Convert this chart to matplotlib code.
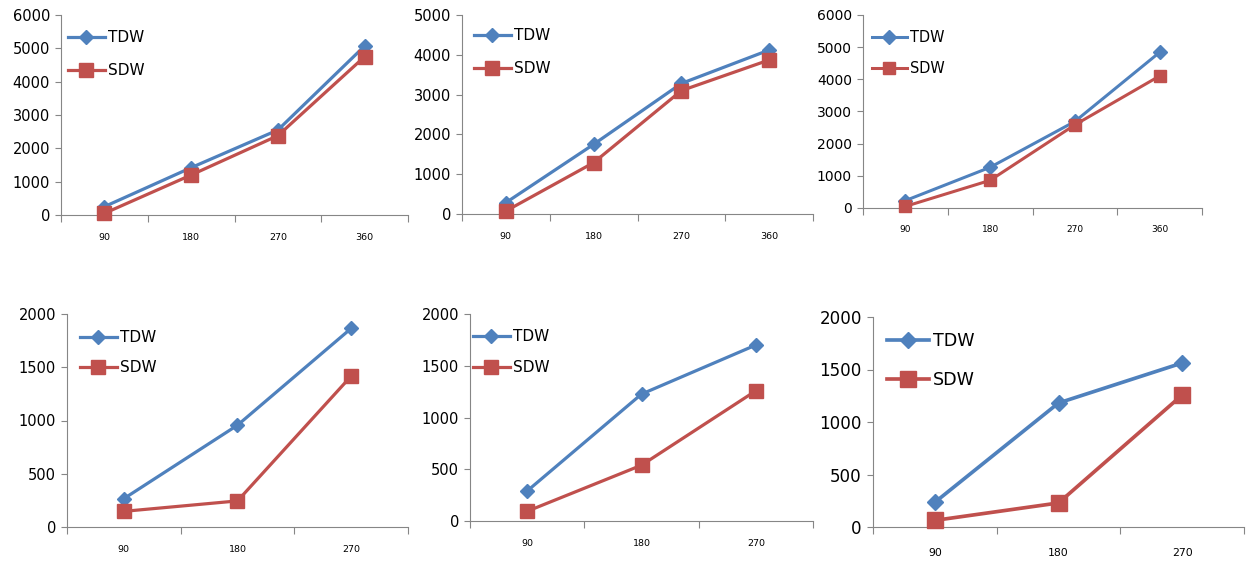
import matplotlib
matplotlib.use("Agg")
import matplotlib.pyplot as plt
import numpy as np

plt.rcParams['font.family'] = ['DejaVu Sans']

cats4 = ["90", "180", "270", "360"]
cats3 = ["90", "180", "270"]

p1_tdw = [250, 1420, 2550, 5070]
p1_sdw = [50, 1200, 2380, 4750]
p2_tdw = [285, 1750, 3280, 4120]
p2_sdw = [75, 1290, 3100, 3870]
p3_tdw = [230, 1265, 2690, 4840]
p3_sdw = [50, 860, 2585, 4105]
p4_tdw = [266, 956, 1865]
p4_sdw = [147, 245, 1417]
p5_tdw = [290, 1226, 1700]
p5_sdw = [94, 539, 1258]
p6_tdw = [235, 1181, 1562]
p6_sdw = [63, 229, 1257]

W, H = 1250, 563
fig = plt.figure(figsize=(W / 100, H / 100), dpi=100)

BLUE = "#4F81BD"
RED = "#C0504D"
GREY = "#868686"

# (left, right, top, bottom) in pixels, ymax, ystep, legend (x, y_top), scale, labelspacing
panels = [
    (cats4, p1_tdw, p1_sdw, (61, 408, 15, 215), 6000, 1000, (68, 30), 1.0, 1.2),
    (cats4, p2_tdw, p2_sdw, (462, 813, 15, 214), 5000, 1000, (474, 28), 1.0, 1.2),
    (cats4, p3_tdw, p3_sdw, (863, 1202, 15, 208), 6000, 1000, (872, 30), 0.95, 1.1),
    (cats3, p4_tdw, p4_sdw, (67, 408, 314, 527), 2000, 500, (80, 330), 1.0, 1.0),
    (cats3, p5_tdw, p5_sdw, (470, 813, 314, 521), 2000, 500, (473, 329), 1.0, 1.05),
    (cats3, p6_tdw, p6_sdw, (873, 1244, 317, 527), 2000, 500, (887, 332), 1.15, 1.2),
]

for cats, tdw, sdw, (l, r, t, b), ymax, ystep, (lx, ly), s, lsp in panels:
    ax = fig.add_axes([l / W, 1 - b / H, (r - l) / W, (b - t) / H])
    n = len(cats)
    x = np.arange(n) + 0.5
    ax.plot(x, tdw, color=BLUE, lw=2.3 * s, marker='D', ms=7.5 * s,
            label="TDW", clip_on=False, zorder=3)
    ax.plot(x, sdw, color=RED, lw=2.3 * s, marker='s', ms=9.5 * s,
            label="SDW", clip_on=False, zorder=3)
    ax.set_xlim(0, n)
    ax.set_ylim(0, ymax)
    ax.set_yticks(np.arange(0, ymax + 1, ystep))
    ax.set_xticks(np.arange(n + 1))
    ax.set_xticklabels([])
    ax.set_xticks(x, minor=True)
    ax.set_xticklabels(cats, minor=True)
    ax.tick_params(axis='x', which='major', length=5, color=GREY, width=0.8)
    ax.tick_params(axis='x', which='minor', length=0, labelsize=6.8 * s, pad=13 * s)
    ax.tick_params(axis='y', length=4, color=GREY, width=0.8, labelsize=10.5 * s, pad=4)
    for sp in ['top', 'right']:
        ax.spines[sp].set_visible(False)
    for sp in ['left', 'bottom']:
        ax.spines[sp].set_color(GREY)
        ax.spines[sp].set_linewidth(0.8)
    ax.legend(loc='upper left', bbox_to_anchor=(lx / W, 1 - ly / H),
              bbox_transform=fig.transFigure, frameon=False,
              fontsize=11 * s, handlelength=2.4, handletextpad=0.2,
              borderpad=0, borderaxespad=0, labelspacing=lsp)

fig.savefig("out.png", dpi=100)
